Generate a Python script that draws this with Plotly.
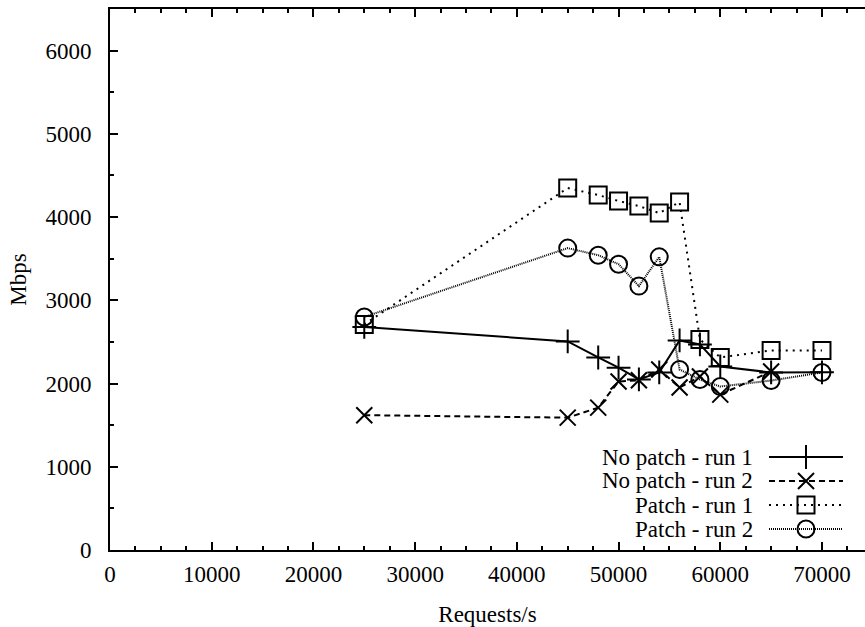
import plotly.graph_objects as go

x_vals = [25000, 45000, 48000, 50000, 52000, 54000, 56000, 58000, 60000, 65000, 70000]
x_vals_run2 = [25000, 45000, 48000, 50000, 52000, 54000, 56000, 58000, 60000, 65000]
nopatch_run1 = [2680, 2506, 2313, 2190, 2050, 2133, 2518, 2470, 2205, 2133, 2135]
nopatch_run2 = [1620, 1590, 1711, 2024, 2040, 2169, 1952, 2084, 1867, 2145]
patch_run1 = [2710, 4349, 4265, 4193, 4133, 4048, 4180, 2530, 2313, 2398, 2398]
patch_run2 = [2800, 3627, 3542, 3434, 3171, 3522, 2169, 2048, 1964, 2036, 2133]

x_ticks = [0, 10000, 20000, 30000, 40000, 50000, 60000, 70000]
y_ticks = [0, 1000, 2000, 3000, 4000, 5000, 6000]

names = ["No patch - run 1", "No patch - run 2", "Patch - run 1", "Patch - run 2"]
xs = [x_vals, x_vals_run2, x_vals, x_vals]
series = [nopatch_run1, nopatch_run2, patch_run1, patch_run2]
symbols = ["cross-thin-open", "x-thin-open", "square-open", "circle-open"]
dashes = ["solid", "6px,4px", "2px,5px", "1px,1px"]
lwidths = [2, 2, 2, 2]
msizes = [17, 16, 17, 17]

FONT = "Times New Roman, Liberation Serif, DejaVu Serif, serif"
FS = 23

fig = go.Figure()
for name, xx, ys, sym, dash, lw, ms in zip(names, xs, series, symbols, dashes, lwidths, msizes):
    fig.add_trace(go.Scatter(
        x=xx, y=ys, mode="lines+markers", name=name, showlegend=False,
        line=dict(color="black", width=lw, dash=dash),
        marker=dict(symbol=sym, size=ms, color="black", line=dict(color="black", width=2)),
    ))

# custom legend (text left of sample, like gnuplot) drawn on an overlay axis
row_px = [457, 481, 505, 529]
for i, (name, sym, dash, lw, ms) in enumerate(zip(names, symbols, dashes, lwidths, msizes)):
    yy = 3 - i
    fig.add_trace(go.Scatter(
        x=[0, 0.5, 1], y=[yy, yy, yy], mode="lines", showlegend=False,
        line=dict(color="black", width=lw, dash=dash), xaxis="x2", yaxis="y2",
        hoverinfo="skip",
    ))
    fig.add_trace(go.Scatter(
        x=[0.5], y=[yy], mode="markers", showlegend=False, xaxis="x2", yaxis="y2",
        marker=dict(symbol=sym, size=ms, color="black", line=dict(color="black", width=2)),
        hoverinfo="skip",
    ))
    fig.add_annotation(
        x=(755 - 110) / 755, y=(550 - row_px[i]) / 541, xref="paper", yref="paper",
        text=name, showarrow=False, xanchor="right", yanchor="middle",
        font=dict(family=FONT, size=FS, color="black"),
    )

top_px, bot_px = 457 - 12, 529 + 12
fig.update_layout(
    width=865, height=627,
    margin=dict(l=110, r=0, t=9, b=77),
    paper_bgcolor="white", plot_bgcolor="white",
    font=dict(family=FONT, size=FS, color="black"),
    showlegend=False,
    xaxis=dict(
        range=[0, 74230], tickvals=x_ticks, ticktext=[str(v) for v in x_ticks],
        showgrid=False, zeroline=False, showline=True, linecolor="black", linewidth=2,
        mirror="ticks", ticks="inside", ticklen=8, tickwidth=1.5, tickcolor="black",
        minor=dict(dtick=2500, ticks="inside", ticklen=4, tickwidth=1.5, tickcolor="black", showgrid=False),
        title=dict(text="Requests/s", font=dict(family=FONT, size=FS), standoff=20),
        tickfont=dict(family=FONT, size=FS), ticklabelstandoff=2,
    ),
    yaxis=dict(
        range=[0, 6500], tickvals=y_ticks, ticktext=[str(v) for v in y_ticks],
        showgrid=False, zeroline=False, showline=True, linecolor="black", linewidth=2,
        mirror=False, ticks="inside", ticklen=8, tickwidth=1.5, tickcolor="black",
        minor=dict(dtick=500, ticks="inside", ticklen=4, tickwidth=1.5, tickcolor="black", showgrid=False),
        title=dict(text="Mbps", font=dict(family=FONT, size=FS), standoff=12),
        tickfont=dict(family=FONT, size=FS), ticklabelstandoff=12,
    ),
    xaxis2=dict(domain=[(769 - 110) / 755, (843 - 110) / 755], range=[0, 1], anchor="y2",
                visible=False, fixedrange=True),
    yaxis2=dict(domain=[(550 - bot_px) / 541, (550 - top_px) / 541], range=[-0.5, 3.5],
                anchor="x2", visible=False, fixedrange=True),
)

fig.write_html("out.html")
